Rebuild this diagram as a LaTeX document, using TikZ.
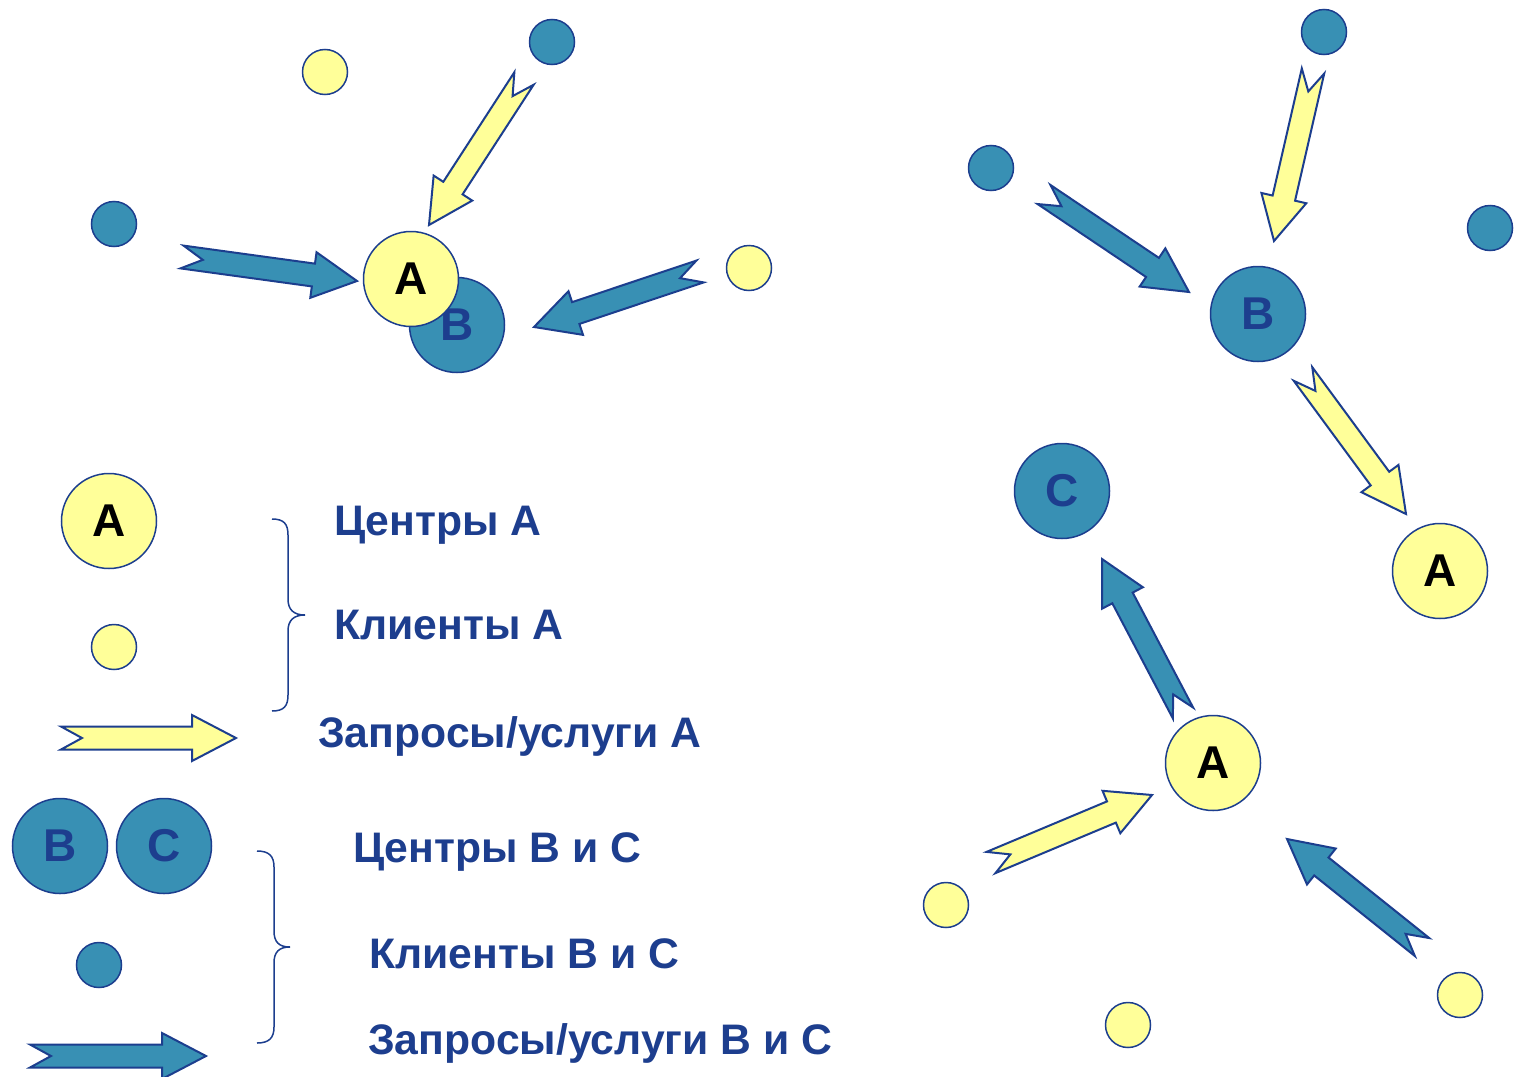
\documentclass[tikz,border=0pt]{standalone}
\usepackage{fontspec}
\setmainfont{Liberation Sans}
\usetikzlibrary{calc}
\definecolor{cblue}{RGB}{56,144,180}
\definecolor{cyel}{RGB}{255,255,153}
\definecolor{cline}{RGB}{28,62,142}
\definecolor{ctext}{RGB}{29,62,142}
\tikzset{
  big/.style={circle, draw=cline, line width=1.5pt, minimum size=95pt, inner sep=0pt, font=\fontsize{46}{50}\selectfont\bfseries},
  bigA/.style={big, fill=cyel, text=black},
  bigB/.style={big, fill=cblue, text=ctext},
  smallY/.style={circle, draw=cline, line width=1.5pt, minimum size=45pt, inner sep=0pt, fill=cyel},
  smallB/.style={circle, draw=cline, line width=1.5pt, minimum size=45pt, inner sep=0pt, fill=cblue},
  yarrow/.style={draw=cline, line width=2pt, fill=cyel, line join=miter},
  barrow/.style={draw=cline, line width=2pt, fill=cblue, line join=miter},
  lbl/.style={anchor=base west, inner sep=0pt, text=ctext, font=\fontsize{42.7}{50}\selectfont\bfseries},
  bracepath/.style={draw=cline, line width=1.5pt}
}
\newcommand{\fatarrow}[3]{%
  \draw[#1] ($(#2)!11.5pt!90:(#3)$)
    -- ($(#3)!44pt!(#2)!11.5pt!-90:(#2)$)
    -- ($(#3)!44pt!(#2)!23pt!-90:(#2)$)
    -- (#3)
    -- ($(#3)!44pt!(#2)!23pt!90:(#2)$)
    -- ($(#3)!44pt!(#2)!11.5pt!90:(#2)$)
    -- ($(#2)!11.5pt!-90:(#3)$)
    -- ($(#2)!21pt!(#3)$) -- cycle;}
\begin{document}
\begin{tikzpicture}[x=1pt,y=-1pt]
\useasboundingbox (0,0) rectangle (1514,1076);
% ---------- top-left group ----------
\node[smallY] (tlY1) at (325,72) {};
\node[smallB] (tlB1) at (552,42) {};
\node[smallB] (tlB2) at (114,224) {};
\node[smallY] (tlY2) at (749,268) {};
\node[bigB] (B1) at (457,325) {B};
\node[bigA] (A1) at (411,279) {A};
\coordinate (t1) at (182,257);   \coordinate (h1) at (357,281);
\coordinate (t2) at (524,78.5);  \coordinate (h2) at (429,225);
\coordinate (t3) at (700,271.5); \coordinate (h3) at (534,327);
\fatarrow{barrow}{t1}{h1}
\fatarrow{yarrow}{t2}{h2}
\fatarrow{barrow}{t3}{h3}
% ---------- right group ----------
\node[smallB] (rB1) at (1324,32) {};
\node[smallB] (rB2) at (991,168) {};
\node[smallB] (rB3) at (1490,228) {};
\node[bigB] (B2) at (1258,314) {B};
\node[bigA] (A2) at (1440,571) {A};
\node[bigB] (C2) at (1062,491) {C};
\node[bigA] (A3) at (1213,763) {A};
\node[smallY] (rY1) at (946,905) {};
\node[smallY] (rY2) at (1128,1025) {};
\node[smallY] (rY3) at (1460,995) {};
\coordinate (t4) at (1313,71);    \coordinate (h4) at (1274,241);
\coordinate (t5) at (1044,194.5); \coordinate (h5) at (1189,292);
\coordinate (t6) at (1303,374);   \coordinate (h6) at (1406,514);
\coordinate (t7) at (1183,713);   \coordinate (h7) at (1102,559);
\coordinate (t8) at (991,862.5);  \coordinate (h8) at (1152,795);
\coordinate (t9) at (1422,947);   \coordinate (h9) at (1287,839);
\fatarrow{yarrow}{t4}{h4}
\fatarrow{barrow}{t5}{h5}
\fatarrow{yarrow}{t6}{h6}
\fatarrow{barrow}{t7}{h7}
\fatarrow{yarrow}{t8}{h8}
\fatarrow{barrow}{t9}{h9}
% ---------- legend ----------
\node[bigA] (LA) at (109,521) {A};
\node[smallY] (LY) at (114,647) {};
\coordinate (lt1) at (61,738); \coordinate (lh1) at (236,738);
\fatarrow{yarrow}{lt1}{lh1}
\node[bigB] (LB) at (60,846) {B};
\node[bigB] (LC) at (164,846) {C};
\node[smallB] (LBs) at (99,965) {};
\coordinate (lt2) at (30,1056); \coordinate (lh2) at (206,1056);
\fatarrow{barrow}{lt2}{lh2}
\draw[bracepath] (272,519) .. controls (284,519) and (288,524) .. (288,535) -- (288,599)
  .. controls (288,610) and (294,615) .. (305,615)
  .. controls (294,615) and (288,620) .. (288,631) -- (288,695)
  .. controls (288,706) and (284,711) .. (272,711);
\draw[bracepath] (257,851) .. controls (269,851) and (274,856) .. (274,867) -- (274,931)
  .. controls (274,942) and (279,947) .. (290,947)
  .. controls (279,947) and (274,952) .. (274,963) -- (274,1027)
  .. controls (274,1038) and (269,1043) .. (257,1043);
\node[lbl] (txt1) at (334,535) {Центры А};
\node[lbl] (txt2) at (334,639) {Клиенты А};
\node[lbl] (txt3) at (318,747) {Запросы/услуги А};
\node[lbl] (txt4) at (353,862) {Центры В и С};
\node[lbl] (txt5) at (369,968) {Клиенты В и С};
\node[lbl] (txt6) at (368,1054) {Запросы/услуги В и С};
\end{tikzpicture}
\end{document}
